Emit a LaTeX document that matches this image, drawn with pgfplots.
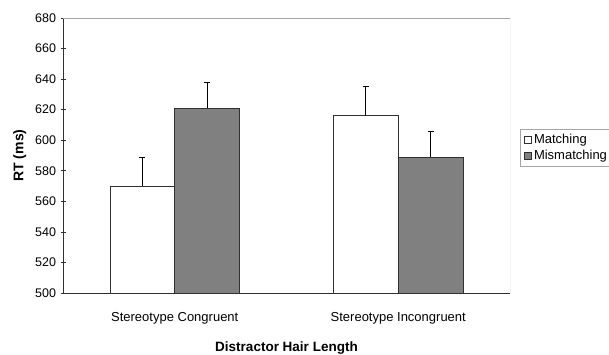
\documentclass[border=0pt]{standalone}
\usepackage{pgfplots}
\pgfplotsset{compat=1.18}
\usepackage{fontspec}
\setmainfont{Liberation Sans}
\definecolor{barg}{HTML}{808080}
\definecolor{edge}{HTML}{303030}
\begin{document}
\begin{tikzpicture}
\clip (0pt,0pt) rectangle (609pt,354pt);
\path[use as bounding box] (0pt,0pt) rectangle (609pt,354pt);
\begin{axis}[
  at={(63pt,61pt)}, anchor=south west,
  scale only axis, width=447pt, height=275pt,
  ymin=500, ymax=680, ytick={500,520,...,680},
  xmin=-0.5, xmax=1.5,
  xtick={0,1}, xticklabels={Stereotype Congruent, Stereotype Incongruent},
  extra x ticks={-0.5,0.5,1.5}, extra x tick labels={},
  extra x tick style={major tick length=5pt, tick style={draw=edge}},
  x tick style={draw=none},
  y tick style={draw=edge, line width=0.6pt},
  major tick length=5pt,
  tick align=outside,
  axis lines=left,
  axis line style={-, draw=edge, line width=0.8pt},
  /pgf/number format/assume math mode=true,
  yticklabel style={font=\fontsize{12.5}{14}\selectfont, xshift=-1pt},
  xticklabel style={font=\fontsize{13}{15}\selectfont, yshift=-11pt},
  xlabel={\textbf{Distractor Hair Length}},
  xlabel style={font=\fontsize{13.5}{15}\selectfont, yshift=-1pt},
  ylabel={\textbf{RT (ms)}},
  ylabel style={font=\fontsize{14}{16}\selectfont, yshift=2pt},
  ybar, bar width=0.29,
  legend style={at={(1.0224,0.596)}, anchor=north west, draw=gray!70,
    font=\fontsize{13}{15}\selectfont, inner xsep=4pt, inner ysep=3pt,
    row sep=1pt, legend cell align=left},
  legend image code/.code={\draw[#1, draw=edge] (0pt,-3.5pt) rectangle (7pt,3.5pt);},
  error bars/error bar style={draw=black, line width=0.9pt},
  error bars/error mark options={rotate=90, mark size=3pt, draw=black, line width=0.9pt},
]
\addplot[fill=white, draw=edge, line width=0.8pt, bar shift=-0.145,
  error bars/.cd, y dir=plus, y explicit]
  coordinates {(0,570) +- (0,19) (1,616) +- (0,19)};
\addplot[fill=barg, draw=edge, line width=0.8pt, bar shift=0.145,
  error bars/.cd, y dir=plus, y explicit]
  coordinates {(0,621) +- (0,17) (1,589) +- (0,17)};
\legend{Matching, Mismatching}
\draw[gray!70, line width=0.8pt] (rel axis cs:0,1) -- (rel axis cs:1,1) -- (rel axis cs:1,0);
\end{axis}
\end{tikzpicture}
\end{document}
